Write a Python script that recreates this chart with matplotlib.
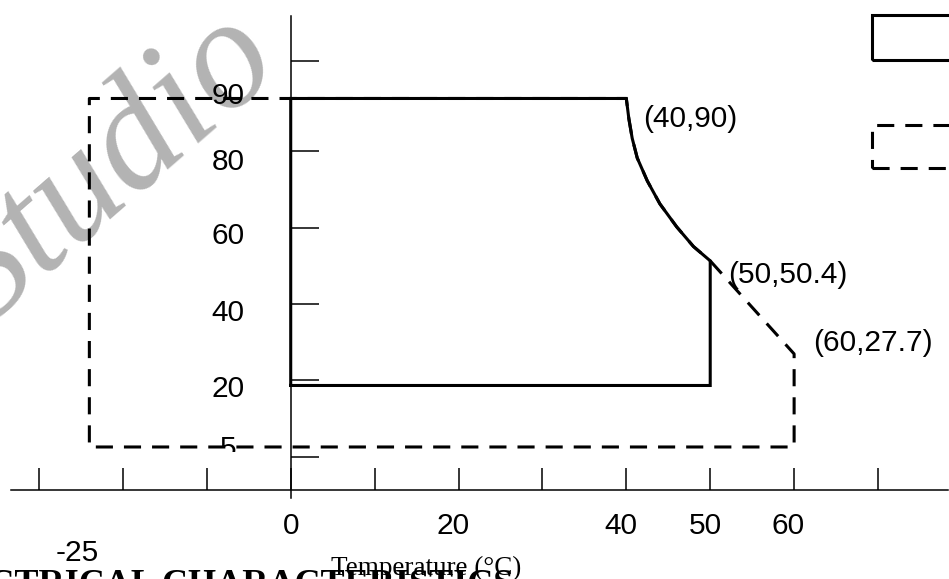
import matplotlib
matplotlib.use("Agg")
import matplotlib.pyplot as plt
from matplotlib.patches import Rectangle
from matplotlib.transforms import Bbox, TransformedBbox

# ---------------- data ----------------
# Solid region (operating range)
solid_x = [0, 0, 40, 40.3, 40.7, 41.3, 42.5, 44.0, 46.0, 48.0, 50, 50, 0]
solid_y = [20, 90, 90, 85.1, 80.3, 75.5, 69.9, 64.3, 58.7, 53.9, 50.4, 20, 20]
# Dashed region (storage range)
dashed_x = [50, 60, 60, -24, -24, 40, 40.3, 40.7, 41.3, 42.5, 44.0, 46.0, 48.0, 50]
dashed_y = [50.4, 27.7, 5, 5, 90, 90, 85.1, 80.3, 75.5, 69.9, 64.3, 58.7, 53.9, 50.4]

# annotated corner points
ann_x = [40, 50, 60]
ann_y = [90, 50.4, 27.7]
ann_text = ["(40,90)", "(50,50.4)", "(60,27.7)"]
ann_offset_px = [(17, -21), (18, -14), (19, 11)]

# axis ticks / labels
xtick_pos = [-30, -20, -10, 0, 10, 20, 30, 40, 50, 60, 70]
xlabel_text = ["0", "20", "40", "50", "60"]
xlabel_pos = [0, 19.3, 39.4, 49.4, 59.3]
extra_xlabel = "-25"
ytick_pos = [2.6, 21.3, 39.9, 58.4, 77.2, 99.1]
ylabel_text = ["90", "80", "60", "40", "20", "5"]
ylabel_pos = [90.6, 74.5, 56.5, 37.7, 19.1, 4.6]

# ---------------- figure ----------------
fig = plt.figure(figsize=(9.49, 5.79), dpi=100)
ax = fig.add_axes([0, 0, 1, 1])
ax.set_xlim(-34.65, 78.46)
ax.set_ylim(-27.2, 114.02)
ax.patch.set_alpha(0)

sans = "Liberation Sans"
serif = "Liberation Serif"

# spines as axes through the origin
for s in ("top", "right"):
    ax.spines[s].set_visible(False)
ax.spines["left"].set_position(("data", 0))
ax.spines["left"].set_bounds(-7.4, 110.1)
ax.spines["bottom"].set_position(("data", -5.49))
ax.spines["bottom"].set_bounds(-33.3, 78.3)
for s in ("left", "bottom"):
    ax.spines[s].set_linewidth(1.1)
    ax.spines[s].set_color("black")

ax.set_xticks(xtick_pos)
ax.set_yticks(ytick_pos)
ax.tick_params(axis="x", direction="in", length=15.8, width=1.1,
               labelbottom=False)
ax.tick_params(axis="y", direction="in", length=20, width=1.1,
               labelleft=False)

# watermark
ax.text(-36.7, 33.8, "Studio", rotation=41, rotation_mode="anchor",
        ha="left", va="baseline", fontsize=112, family=serif,
        style="italic", color="#b3b3b3", zorder=0)

lw = 2.2
ax.plot(solid_x, solid_y, color="black", lw=lw, solid_joinstyle="miter",
        zorder=3)
ax.plot(dashed_x, dashed_y, color="black", lw=lw,
        linestyle=(0, (5.6, 3.6)), zorder=4)

# legend glyphs (cut by the right edge)
ax.add_patch(Rectangle((69.28, 99.4), 20, 11.0, fill=False, lw=lw,
                       edgecolor="black", zorder=3))
ax.add_patch(Rectangle((69.28, 73.05), 20, 10.5, fill=False, lw=lw,
                       edgecolor="black", linestyle=(0, (5.6, 3.6)),
                       zorder=3))

# annotations
for x, y, t, off in zip(ann_x, ann_y, ann_text, ann_offset_px):
    ax.annotate(t, xy=(x, y), xytext=off, textcoords="offset pixels",
                ha="left", va="center", fontsize=21.5, family=sans,
                zorder=5)

# x labels
for x, t in zip(xlabel_pos, xlabel_text):
    ax.text(x, -14.3, t, ha="center", va="center", fontsize=21.5,
            family=sans)
ax.text(-25.4, -20.9, extra_xlabel, ha="center", va="center",
        fontsize=21.5, family=sans)

# y labels
for y, t in zip(ylabel_pos, ylabel_text):
    txt = ax.text(-7.47, y, t, ha="center", va="center", fontsize=21.5,
                  family=sans, zorder=2)
    if t == "5":
        clip = TransformedBbox(Bbox([[-20, 3.8], [5, 20]]), ax.transData)
        txt.set_clip_box(clip)
        txt.set_clip_on(True)

# axis title and overlapping heading from the source page
ax.text(16.2, -26.2, "Temperature (°C)", ha="center", va="baseline",
        fontsize=19.5, family=serif)
ax.text(26.5, -30.9, "ELECTRICAL CHARACTERISTICS", ha="right",
        va="baseline", fontsize=26, family=serif, weight="bold")

fig.savefig("out.png", dpi=100)
